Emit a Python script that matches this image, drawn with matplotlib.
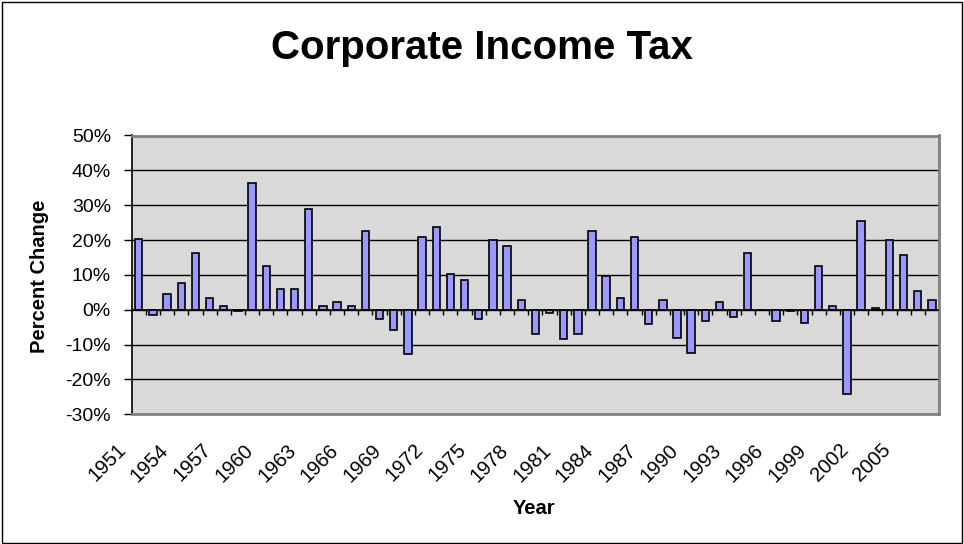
import matplotlib
matplotlib.use("Agg")
import matplotlib.pyplot as plt
import matplotlib.transforms as mtransforms
from matplotlib.ticker import FixedLocator, PercentFormatter
from matplotlib.patches import Rectangle

# Annual percent change in corporate income tax receipts
years = list(range(1951, 2008))
pct_change = [
    20.3, -1.5, 4.4, 7.6, 16.2, 3.3, 1.2, -0.5, 36.5, 12.5,
    5.9, 5.9, 29.0, 1.2, 2.2, 1.2, 22.6, -2.7, -5.8, -12.8,
    21.0, 23.7, 10.2, 8.6, -2.6, 19.9, 18.3, 2.7, -6.9, -1.0,
    -8.5, -6.9, 22.6, 9.8, 3.3, 21.0, -4.2, 2.7, -8.0, -12.4,
    -3.3, 2.2, -2.1, 16.2, 0.0, -3.3, -0.5, -3.7, 12.5, 1.2,
    -24.1, 25.4, 0.5, 19.9, 15.7, 5.5, 2.8,
]
y_ticks = [-30, -20, -10, 0, 10, 20, 30, 40, 50]
label_years = years[::3]

plt.rcParams['font.family'] = ['Liberation Sans', 'DejaVu Sans']
plt.rcParams['axes.unicode_minus'] = False

W, H = 964, 544
fig = plt.figure(figsize=(W / 100, H / 100), dpi=100)

# chart-area frame
fig.patches.append(Rectangle((1.5 / W, 1.5 / H), 1 - 3.5 / W, 1 - 3.5 / H,
                             transform=fig.transFigure, fill=False,
                             edgecolor='black', linewidth=1.0))

left, right, top, bottom = 131.7, 939.0, 135.5, 414.3
ax = fig.add_axes([left / W, 1 - bottom / H, (right - left) / W, (bottom - top) / H])
ax.set_facecolor('#D9D9D9')

x = list(range(len(years)))
ax.bar(x, pct_change, width=0.52, color='#9999FF', edgecolor='black',
       linewidth=1.2, zorder=3)

ax.set_xlim(-0.5, len(years) - 0.5)
ax.set_ylim(y_ticks[0], y_ticks[-1])

# y axis
ax.yaxis.set_major_locator(FixedLocator(y_ticks))
ax.yaxis.set_major_formatter(PercentFormatter(decimals=0))
ax.tick_params(axis='y', direction='out', length=6, width=1, labelsize=14,
               pad=9, colors='black')
for yv in y_ticks[1:-1]:
    ax.axhline(yv, color='black', linewidth=1.0, zorder=1)

# category axis drawn along the zero line
ax.axhline(0, color='black', linewidth=1.2, zorder=4)
ax.set_xticks([])

# boundary tick marks on the zero line
tick_len = 5 * (y_ticks[-1] - y_ticks[0]) / (bottom - top)
ax.vlines([i - 0.5 for i in range(1, len(years))], -tick_len, 0,
          colors='black', linewidth=1.0, zorder=4)

# rotated year labels below the plot
offset = mtransforms.ScaledTranslation(-9 / 100, -26 / 100, fig.dpi_scale_trans)
label_trans = mtransforms.blended_transform_factory(ax.transData, ax.transAxes) + offset
for yr in label_years:
    i = years.index(yr)
    ax.text(i, 0, str(yr), transform=label_trans,
            rotation=45, ha='right', va='top', fontsize=14.5)

for side in ['top', 'right', 'bottom']:
    ax.spines[side].set_color('#808080')
    ax.spines[side].set_linewidth(2.0)
ax.spines['left'].set_color('black')
ax.spines['left'].set_linewidth(1.2)

fig.text(0.5, 1 - 48 / H, 'Corporate Income Tax', ha='center', va='center',
         fontsize=29, fontweight='bold')
fig.text(40 / W, 1 - 276 / H, 'Percent Change', ha='center', va='center',
         rotation=90, fontsize=14.5, fontweight='bold')
fig.text(534 / W, 1 - 508 / H, 'Year', ha='center', va='center',
         fontsize=14.5, fontweight='bold')

fig.savefig('out.png', dpi=100)
